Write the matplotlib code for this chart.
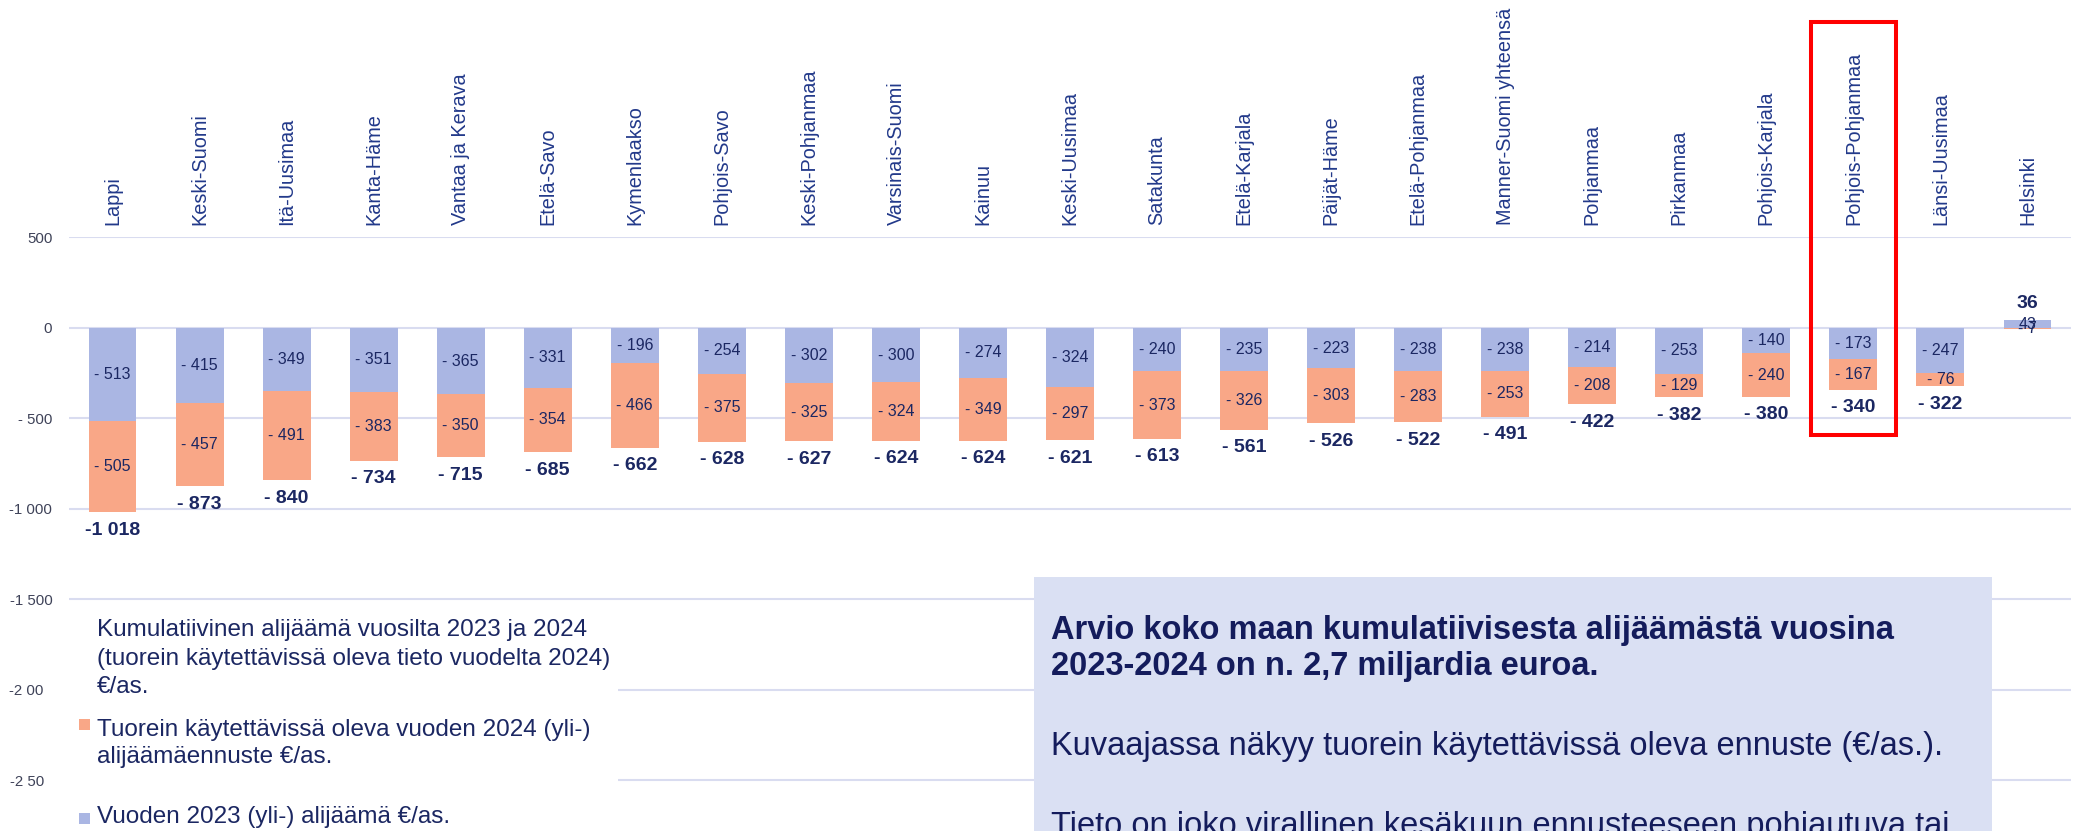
import numpy as np
import matplotlib
matplotlib.use("Agg")
import matplotlib.pyplot as plt
from matplotlib.patches import Rectangle
from matplotlib.transforms import blended_transform_factory

plt.rcParams['font.family'] = ['Liberation Sans', 'DejaVu Sans']

# Data (EUR per inhabitant)
regions = ["Lappi", "Keski-Suomi", "Itä-Uusimaa", "Kanta-Häme", "Vantaa ja Kerava",
           "Etelä-Savo", "Kymenlaakso", "Pohjois-Savo", "Keski-Pohjanmaa", "Varsinais-Suomi",
           "Kainuu", "Keski-Uusimaa", "Satakunta", "Etelä-Karjala", "Päijät-Häme",
           "Etelä-Pohjanmaa", "Manner-Suomi yhteensä", "Pohjanmaa", "Pirkanmaa",
           "Pohjois-Karjala", "Pohjois-Pohjanmaa", "Länsi-Uusimaa", "Helsinki"]
deficit_2023 = [-513, -415, -349, -351, -365, -331, -196, -254, -302, -300, -274, -324,
                -240, -235, -223, -238, -238, -214, -253, -140, -173, -247, 43]
deficit_2024 = [-505, -457, -491, -383, -350, -354, -466, -375, -325, -324, -349, -297,
                -373, -326, -303, -283, -253, -208, -129, -240, -167, -76, -7]
totals = [-1018, -873, -840, -734, -715, -685, -662, -628, -627, -624, -624, -621,
          -613, -561, -526, -522, -491, -422, -382, -380, -340, -322, 36]
yticks = [500, 0, -500, -1000, -1500, -2000, -2500]
highlight = "Pohjois-Pohjanmaa"

legend_title = ["Kumulatiivinen alijäämä vuosilta 2023 ja 2024",
                "(tuorein käytettävissä oleva tieto vuodelta 2024)",
                "€/as."]
legend_2024 = ["Tuorein käytettävissä oleva vuoden 2024 (yli-)", "alijäämäennuste €/as."]
legend_2023 = "Vuoden 2023 (yli-) alijäämä €/as."
box_bold = ["Arvio koko maan kumulatiivisesta alijäämästä vuosina",
            "2023-2024 on n. 2,7 miljardia euroa."]
box_lines = ["Kuvaajassa näkyy tuorein käytettävissä oleva ennuste (€/as.).",
             "Tieto on joko virallinen kesäkuun ennusteeseen pohjautuva tai"]

BLUE = '#AAB6E3'
ORANGE = '#F9A787'
GRID = '#D9DCF0'
NAVY = '#1B2762'
CATC = '#22398A'
BOXC = '#DAE0F3'


def fmt(v):
    s = f"{abs(v):,}".replace(",", " ")
    if v < 0:
        return ("-" if abs(v) >= 1000 else "- ") + s
    return s


W, H = 2080, 831
fig = plt.figure(figsize=(W / 100, H / 100), dpi=100)
ax = fig.add_axes([69 / W, 0, 2002 / W, 593.9 / H])

x = np.arange(len(regions))
d23 = np.array(deficit_2023)
d24 = np.array(deficit_2024)
bottom24 = np.where(np.sign(d24) == np.sign(d23), d23, 0)

ax.bar(x, d23, width=0.55, color=BLUE, zorder=2)
ax.bar(x, d24, bottom=bottom24, width=0.55, color=ORANGE, zorder=2)

# segment labels + totals
for i in range(len(regions)):
    ax.text(i, d23[i] / 2, fmt(d23[i]), ha='center', va='center',
            fontsize=11.5, color=NAVY, zorder=3)
    ax.text(i, bottom24[i] + d24[i] / 2, fmt(d24[i]), ha='center', va='center',
            fontsize=11.5, color=NAVY, zorder=3)
    ax.annotate(fmt(totals[i]), (i, totals[i]),
                xytext=(0, -13 if totals[i] < 0 else 13), textcoords='offset points',
                ha='center', va='center', fontsize=14, fontweight='bold',
                color=NAVY, zorder=3)

ax.set_xlim(-0.5, len(regions) - 0.5)
ax.set_ylim(-2779, 502)
ax.set_yticks(yticks)
ax.set_yticklabels([fmt(v) for v in yticks])
ax.grid(axis='y', color=GRID, lw=1.5)
ax.set_axisbelow(True)
for s in ax.spines.values():
    s.set_visible(False)
ax.tick_params(axis='y', length=0, pad=12, labelsize=10.8, labelcolor='#3E4258')

ax.xaxis.tick_top()
ax.set_xticks(x)
ax.set_xticklabels(regions, rotation=90, fontsize=14.3, color=CATC)
ax.tick_params(axis='x', length=0, pad=8.6)

# red frame around the highlighted region
k = regions.index(highlight)
trans = blended_transform_factory(ax.transData, fig.transFigure)
fig.add_artist(Rectangle((k - 0.49, 1 - 435 / H), 0.98, (435 - 22) / H, transform=trans,
                         fill=False, ec='#FF0000', lw=2.9, clip_on=False, zorder=10))

# legend area (covers the axis labels like in the original)
fig.add_artist(Rectangle((44 / W, 0), (618 - 44) / W, (831 - 608) / H,
                         transform=fig.transFigure, fc='white', ec='none', zorder=5))
for line, yp in zip(legend_title, [630, 659, 687]):
    fig.text(97 / W, 1 - yp / H, line, va='center', fontsize=17.5, color=NAVY, zorder=6)
fig.add_artist(Rectangle((79 / W, 1 - 730 / H), 11 / W, 11 / H, transform=fig.transFigure,
                         fc=ORANGE, ec='none', zorder=6))
for line, yp in zip(legend_2024, [730, 757]):
    fig.text(97 / W, 1 - yp / H, line, va='center', fontsize=17.5, color=NAVY, zorder=6)
fig.add_artist(Rectangle((79 / W, 1 - 824 / H), 11 / W, 11 / H, transform=fig.transFigure,
                         fc=BLUE, ec='none', zorder=6))
fig.text(97 / W, 1 - 817 / H, legend_2023, va='center', fontsize=17.5, color=NAVY, zorder=6)

# info box
fig.add_artist(Rectangle((1034 / W, 0), (1992 - 1034) / W, (831 - 577) / H,
                         transform=fig.transFigure, fc=BOXC, ec='none', zorder=5))
for line, yp in zip(box_bold, [630, 667]):
    fig.text(1051 / W, 1 - yp / H, line, va='center', fontsize=23.5, fontweight='bold',
             color='#141C5C', zorder=6)
for line, yp in zip(box_lines, [747, 826]):
    fig.text(1051 / W, 1 - yp / H, line, va='center', fontsize=23.5,
             color='#141C5C', zorder=6)

fig.savefig('out.png', dpi=100, facecolor='white')
